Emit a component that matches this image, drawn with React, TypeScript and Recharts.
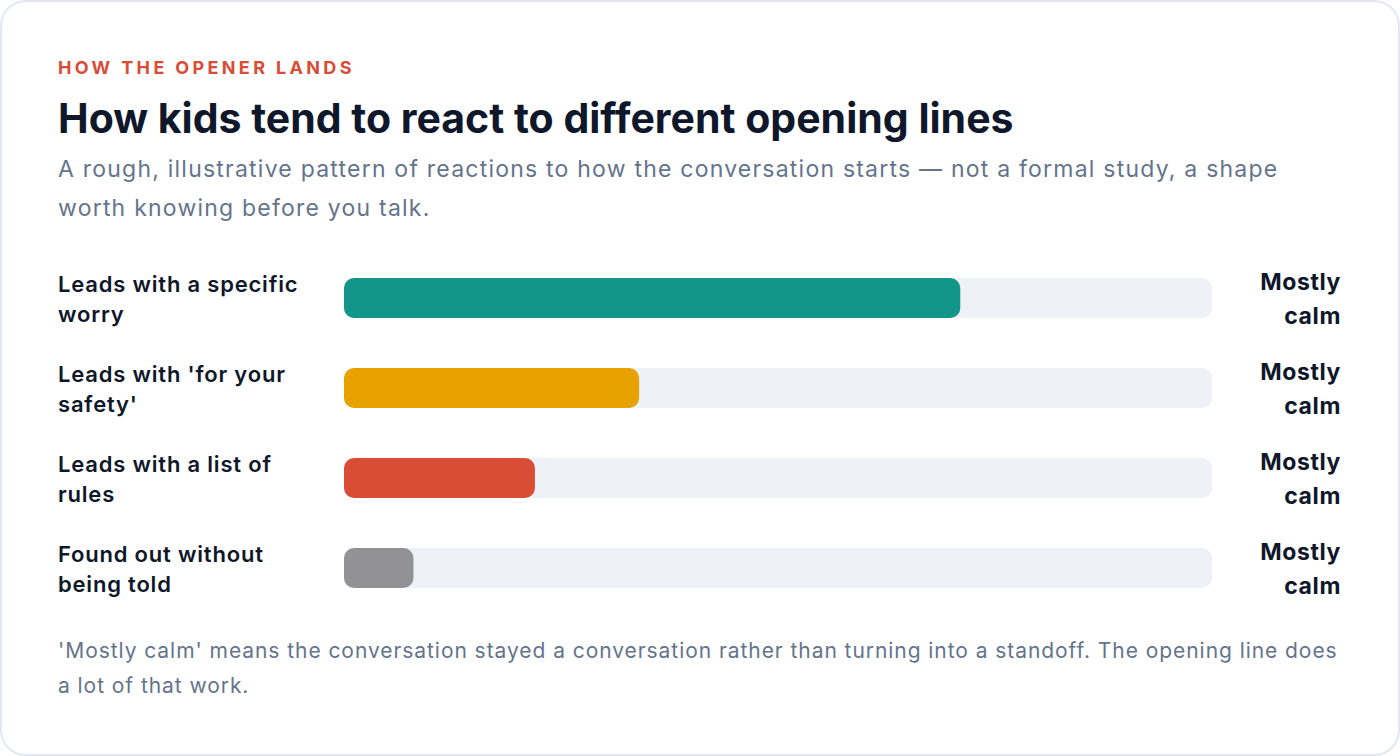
import React from "react";
import { BarChart, Bar, XAxis, YAxis, Cell } from "recharts";

const categories = [
  "Leads with a specific worry",
  "Leads with 'for your safety'",
  "Leads with a list of rules",
  "Found out without being told",
];
const calmShare = [71, 34, 22, 8];
const outcomes = ["Mostly calm", "Mostly calm", "Mostly calm", "Mostly calm"];
const barColors = ["#12968a", "#e8a200", "#d94c35", "#929196"];

const data = categories.map((label, i) => ({ label, value: calmShare[i], outcome: outcomes[i] }));

const FONT = "Inter, 'Noto Sans', sans-serif";
const INK = "#0f172a";

function wrap(text: string, max: number): string[] {
  const words = text.split(" ");
  const lines: string[] = [];
  let cur = "";
  for (const w of words) {
    const next = cur ? cur + " " + w : w;
    if (next.length > max && cur) {
      lines.push(cur);
      cur = w;
    } else cur = next;
  }
  if (cur) lines.push(cur);
  return lines;
}

const LeftTick = (props: any) => {
  const { y, payload } = props;
  const lines = wrap(String(payload.value), 21);
  const lh = 30;
  const start = y + 1 - ((lines.length - 1) * lh) / 2;
  return (
    <text
      x={58}
      y={start}
      textAnchor="start"
      fill={INK}
      fontFamily={FONT}
      fontSize={22}
      fontWeight={600}
      letterSpacing={0.8}
    >
      {lines.map((l, i) => (
        <tspan key={i} x={58} y={start + i * lh} dy="0.35em">
          {l}
        </tspan>
      ))}
    </text>
  );
};

const RightTick = (props: any) => {
  const { y, payload } = props;
  const txt = outcomes[payload.index] ?? "";
  const lines = txt.split(" ");
  const lh = 34;
  const start = y + 1 - ((lines.length - 1) * lh) / 2;
  return (
    <text
      x={1341}
      y={start}
      textAnchor="end"
      fill={INK}
      fontFamily={FONT}
      fontSize={23}
      fontWeight={700}
      letterSpacing={0.6}
    >
      {lines.map((l, i) => (
        <tspan key={i} x={1341} y={start + i * lh} dy="0.35em">
          {l}
        </tspan>
      ))}
    </text>
  );
};

export default function App() {
  return (
    <div
      style={{
        position: "absolute",
        left: 0,
        top: 0,
        width: 1400,
        height: 756,
        boxSizing: "border-box",
        border: "2px solid #e3e8f0",
        borderRadius: 26,
        background: "#ffffff",
        fontFamily: FONT,
        overflow: "hidden",
      }}
    >
      <div
        style={{
          position: "absolute",
          left: 56,
          top: 55,
          fontSize: 18,
          lineHeight: "22px",
          fontWeight: 700,
          letterSpacing: "3.35px",
          color: "#d94c35",
          whiteSpace: "nowrap",
        }}
      >
        HOW THE OPENER LANDS
      </div>
      <div
        style={{
          position: "absolute",
          left: 56,
          top: 92,
          fontSize: 41,
          lineHeight: "48px",
          fontWeight: 700,
          letterSpacing: "0px",
          color: INK,
          whiteSpace: "nowrap",
        }}
      >
        How kids tend to react to different opening lines
      </div>
      <div
        style={{
          position: "absolute",
          left: 56,
          top: 148,
          width: 1280,
          fontSize: 23,
          lineHeight: "39px",
          letterSpacing: "1.22px",
          color: "#64748b",
        }}
      >
        A rough, illustrative pattern of reactions to how the conversation starts — not a formal study, a shape worth
        knowing before you talk.
      </div>

      <div style={{ position: "absolute", left: -2, top: 251 }}>
        <BarChart
          width={1400}
          height={360}
          data={data}
          layout="vertical"
          margin={{ top: 0, right: 0, bottom: 0, left: 0 }}
          barCategoryGap={50}
        >
          <XAxis type="number" domain={[0, 100]} hide />
          <YAxis
            yAxisId="left"
            type="category"
            dataKey="label"
            width={344}
            axisLine={false}
            tickLine={false}
            tick={<LeftTick />}
            interval={0}
          />
          <YAxis
            yAxisId="right"
            orientation="right"
            type="category"
            dataKey="label"
            width={188}
            axisLine={false}
            tickLine={false}
            tick={<RightTick />}
            interval={0}
          />
          <Bar
            yAxisId="left"
            dataKey="value"
            barSize={40}
            radius={10}
            background={{ fill: "#eef1f6", radius: 10 } as any}
            isAnimationActive={false}
          >
            {data.map((d, i) => (
              <Cell key={d.label} fill={barColors[i]} />
            ))}
          </Bar>
        </BarChart>
      </div>

      <div
        style={{
          position: "absolute",
          left: 56,
          top: 631,
          width: 1288,
          fontSize: 21,
          lineHeight: "35px",
          letterSpacing: "0.94px",
          color: "#64748b",
        }}
      >
        'Mostly calm' means the conversation stayed a conversation rather than turning into a standoff. The opening line
        does a lot of that work.
      </div>
    </div>
  );
}
